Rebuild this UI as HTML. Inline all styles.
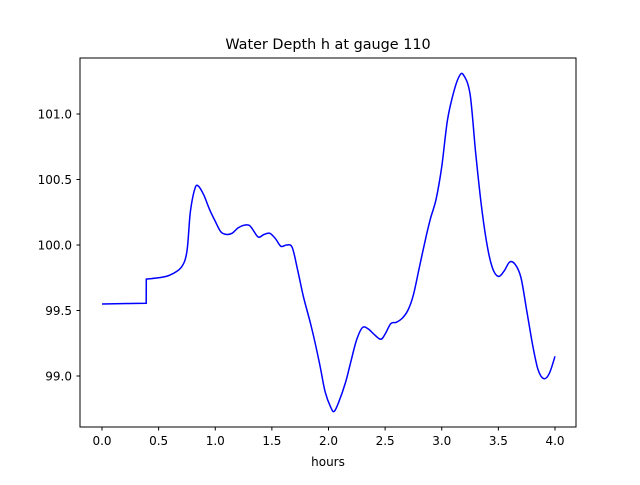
<!DOCTYPE html>
<html><head><meta charset="utf-8"><style>
body{margin:0;background:#fff;}
svg text{font-family:"DejaVu Sans","Liberation Sans",sans-serif;}
</style></head><body>
<svg width="640" height="480" xmlns="http://www.w3.org/2000/svg">
<rect width="640" height="480" fill="#fff"/>
<text x="328" y="49" font-size="14.4" text-anchor="middle">Water Depth h at gauge 110</text>
<g id="ticks"></g>
<path id="line" fill="none" stroke="#0000ff" stroke-width="1.5"/>
<rect x="80" y="58" width="496" height="369" fill="none" stroke="#000" stroke-width="1"/>
<text x="328" y="466" font-size="12" text-anchor="middle">hours</text>
</svg>
<script>
const hours=[0,0.39,0.391,0.5,0.6,0.7,0.75,0.78,0.82,0.85,0.9,0.95,1.0,1.05,1.1,1.15,1.2,1.25,1.3,1.33,1.38,1.43,1.48,1.53,1.58,1.63,1.68,1.73,1.78,1.85,1.92,1.97,2.02,2.05,2.09,2.15,2.2,2.25,2.3,2.35,2.4,2.46,2.5,2.55,2.6,2.65,2.7,2.75,2.8,2.85,2.9,2.95,3.0,3.05,3.1,3.15,3.19,3.25,3.3,3.35,3.4,3.45,3.5,3.55,3.6,3.65,3.7,3.75,3.8,3.85,3.9,3.95,4.0];
const depth=[99.55,99.555,99.74,99.75,99.77,99.83,99.95,100.25,100.43,100.45,100.38,100.27,100.18,100.10,100.08,100.09,100.13,100.15,100.15,100.12,100.06,100.08,100.09,100.05,99.99,100.0,99.98,99.8,99.6,99.37,99.1,98.88,98.76,98.73,98.8,98.95,99.12,99.28,99.37,99.36,99.32,99.28,99.32,99.4,99.41,99.44,99.5,99.62,99.82,100.02,100.2,100.35,100.6,100.95,101.15,101.28,101.3,101.15,100.7,100.3,100.0,99.82,99.76,99.8,99.87,99.85,99.75,99.5,99.25,99.05,98.98,99.02,99.15];
const xTicks=[0,0.5,1,1.5,2,2.5,3,3.5,4];
const yTicks=[99.0,99.5,100.0,100.5,101.0];
const xs=v=>102+v*113.25;
const ys=v=>245-(v-100)*131;
const NS="http://www.w3.org/2000/svg";
const g=document.getElementById('ticks');
xTicks.forEach(t=>{
  const l=document.createElementNS(NS,'line');
  l.setAttribute('x1',xs(t));l.setAttribute('x2',xs(t));l.setAttribute('y1',427);l.setAttribute('y2',430.5);l.setAttribute('stroke','#000');
  
  
  g.appendChild(l);
  const tx=document.createElementNS(NS,'text');
  tx.setAttribute('x',xs(t));tx.setAttribute('y',445);tx.setAttribute('font-size','12');tx.setAttribute('text-anchor','middle');
  tx.textContent=t.toFixed(1);
  
  
  g.appendChild(tx);
});
yTicks.forEach(t=>{
  const l=document.createElementNS(NS,'line');
  l.setAttribute('x1',76.5);l.setAttribute('x2',80);l.setAttribute('y1',ys(t));l.setAttribute('y2',ys(t));l.setAttribute('stroke','#000');
  
  
  g.appendChild(l);
  const tx=document.createElementNS(NS,'text');
  tx.setAttribute('x',72);tx.setAttribute('y',ys(t)+4.5);tx.setAttribute('font-size','12');tx.setAttribute('text-anchor','end');
  tx.textContent=t.toFixed(1);
  
  
  g.appendChild(tx);
});
const P=hours.map((h,i)=>[xs(h),ys(depth[i])]);
let d='M'+P[0][0].toFixed(1)+','+P[0][1].toFixed(1);
for(let i=0;i<P.length-1;i++){
  const p0=P[Math.max(0,i-1)],p1=P[i],p2=P[i+1],p3=P[Math.min(P.length-1,i+2)];
  if(p2[0]-p1[0]<1){d+='L'+p2[0].toFixed(1)+','+p2[1].toFixed(1);continue;}
  const c1=[p1[0]+(p2[0]-p0[0])/6,p1[1]+(p2[1]-p0[1])/6];
  const c2=[p2[0]-(p3[0]-p1[0])/6,p2[1]-(p3[1]-p1[1])/6];
  if(i>0&&p1[0]-p0[0]<1){c1[0]=p1[0]+(p2[0]-p1[0])/3;c1[1]=p1[1]+(p2[1]-p1[1])/3;}
  if(i+2<P.length&&p3[0]-p2[0]<1){c2[0]=p2[0]-(p2[0]-p1[0])/3;c2[1]=p2[1]-(p2[1]-p1[1])/3;}
  d+='C'+c1[0].toFixed(1)+','+c1[1].toFixed(1)+' '+c2[0].toFixed(1)+','+c2[1].toFixed(1)+' '+p2[0].toFixed(1)+','+p2[1].toFixed(1);
}
document.getElementById('line').setAttribute('d',d);
</script>
</body></html>
